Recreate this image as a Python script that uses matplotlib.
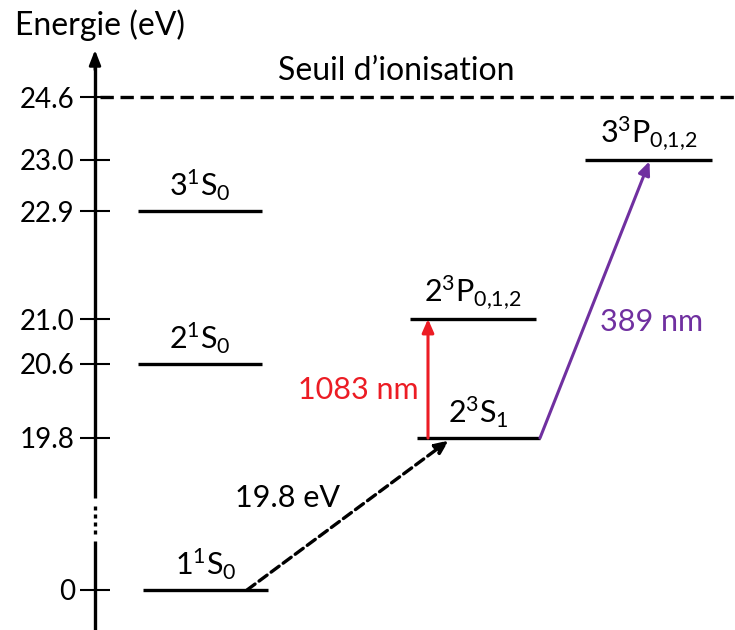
import numpy as np
import matplotlib
matplotlib.use('Agg')
import matplotlib.pyplot as plt
import matplotlib.transforms as mtransforms

plt.rcParams['font.family'] = ['Lato', 'DejaVu Sans']
plt.rcParams['mathtext.fontset'] = 'custom'
plt.rcParams['mathtext.rm'] = 'Lato'
plt.rcParams['mathtext.it'] = 'Lato'

# niveaux d'energie (eV)
tick_energies = [0, 19.8, 20.6, 21.0, 22.9, 23.0, 24.6]
tick_labels = ['0', '19.8', '20.6', '21.0', '22.9', '23.0', '24.6']

level_names = [r'$\mathregular{1^1S_0}$', r'$\mathregular{2^1S_0}$', r'$\mathregular{3^1S_0}$',
               r'$\mathregular{2^3S_1}$', r'$\mathregular{2^3P_{0{,}1{,}2}}$', r'$\mathregular{3^3P_{0{,}1{,}2}}$']
level_energies = [0, 20.6, 22.9, 19.8, 21.0, 23.0]
seuil = 24.6

# transitions
trans_labels = ['19.8 eV', '1083 nm', '389 nm']
trans_colors = ['black', '#ec1c24', '#7030a0']

# --- mise en page (pixels) ---
level_x = [(143, 268), (138, 262), (138, 262), (417, 540), (410, 536), (585, 712)]
# echelle brisee : energie -> hauteur en pixels depuis le bas
E_nodes = [-10, 0, 19.8, 20.6, 21.0, 22.9, 23.0, 24.6, 27.03]
P_nodes = [0, 40, 192, 266, 311, 419, 470, 533, 630]


def forward(e):
    e = np.asarray(e, dtype=float)
    return np.interp(e, E_nodes, P_nodes, left=np.nan, right=np.nan)


def inverse(p):
    p = np.asarray(p, dtype=float)
    return np.interp(p, P_nodes, E_nodes)


police = 22

fig = plt.figure(figsize=(7.35, 6.3), dpi=100)
ax = fig.add_axes([0, 0, 1, 1])
ax.set_yscale('function', functions=(forward, inverse))
ax.set_ylim(-10, 27.03)
ax.set_xlim(0, 735)
ax.patch.set_visible(False)

for s in ['top', 'right', 'bottom']:
    ax.spines[s].set_visible(False)
ax.spines['left'].set_position(('data', 95))
ax.spines['left'].set_visible(False)
ax.set_xticks([])
ax.set_yticks(tick_energies)
ax.set_yticklabels(tick_labels)
ax.yaxis.set_minor_locator(matplotlib.ticker.NullLocator())
ax.tick_params(axis='y', direction='inout', length=21, width=1.5, pad=4, labelsize=20)

# axe vertical avec coupure
bt = mtransforms.blended_transform_factory(ax.transData, ax.transAxes)
ax.plot([95, 95], [0, (630 - 541) / 630], color='black', lw=2.4, transform=bt, solid_capstyle='butt')
ax.plot([95, 95], [(630 - 498) / 630, (630 - 62) / 630], color='black', lw=2.4, transform=bt, solid_capstyle='butt')
ax.plot([95, 95], [(630 - 506) / 630, (630 - 536) / 630], color='black', lw=2.4, transform=bt,
        linestyle=(0, (1.2, 1.2)), solid_capstyle='butt')
ax.annotate('', xy=(95, (630 - 50) / 630), xytext=(95, (630 - 70) / 630),
            xycoords=bt, textcoords=bt,
            arrowprops=dict(arrowstyle='-|>,head_length=0.9,head_width=0.35', color='black', lw=2,
                            shrinkA=0, shrinkB=0))
ax.text(15, (630 - 25) / 630, 'Energie (eV)', transform=bt, fontsize=23, va='center', ha='left')

# seuil d'ionisation
ax.plot([100, 735], [seuil, seuil], color='black', lw=2.4, linestyle=(0, (4, 2)))
ax.annotate('Seuil d\u2019ionisation', xy=(278, seuil), xytext=(0, 8), textcoords='offset points',
            fontsize=23, va='bottom', ha='left')

# niveaux
for name, e, (x0, x1) in zip(level_names, level_energies, level_x):
    ax.plot([x0, x1], [e, e], color='black', lw=2.4, solid_capstyle='butt')
    ax.annotate(name, xy=((x0 + x1) / 2, e), xytext=(0, 6), textcoords='offset points',
                ha='center', va='bottom', fontsize=police)

# transitions
ax.annotate('', xy=(452, 19.8), xytext=(247, 0),
            arrowprops=dict(arrowstyle='-|>,head_length=0.8,head_width=0.35', color=trans_colors[0],
                            lw=2.4, linestyle=(0, (3, 1.5)), shrinkA=0, shrinkB=3))
ax.text(288, 12.0, trans_labels[0], fontsize=police, color=trans_colors[0], ha='center', va='center')

ax.annotate('', xy=(428, 21.0), xytext=(428, 19.8),
            arrowprops=dict(arrowstyle='-|>,head_length=0.8,head_width=0.35', color=trans_colors[1],
                            lw=2.2, shrinkA=0, shrinkB=0))
ax.text(358, 20.32, trans_labels[1], fontsize=police, color=trans_colors[1], ha='center', va='center')

ax.annotate('', xy=(650, 23.0), xytext=(540, 19.8),
            arrowprops=dict(arrowstyle='-|>,head_length=0.8,head_width=0.35', color=trans_colors[2],
                            lw=2.2, shrinkA=0, shrinkB=1))
ax.text(652, 20.97, trans_labels[2], fontsize=police, color=trans_colors[2], ha='center', va='center')

fig.savefig('out.png', dpi=100)
